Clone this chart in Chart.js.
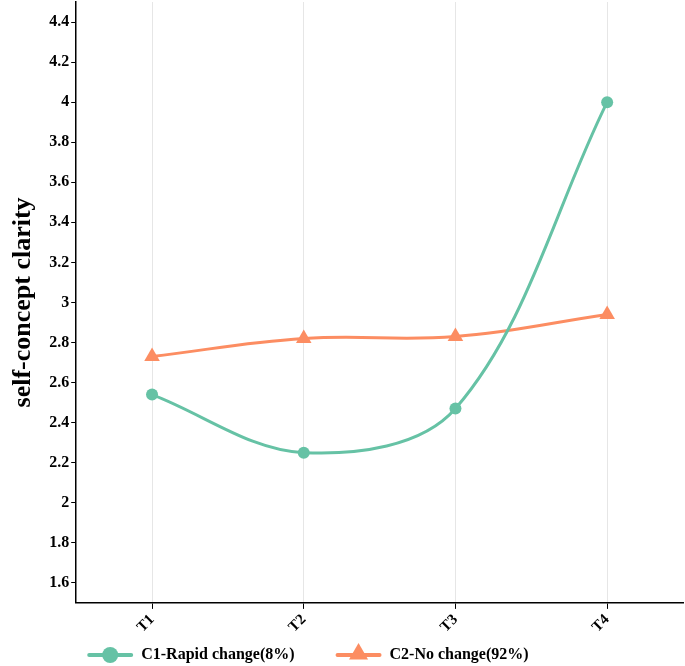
<!DOCTYPE html>
<html>
<head>
<meta charset="utf-8">
<script src="https://cdn.jsdelivr.net/npm/chart.js@4"></script>
<style>
  html, body { margin: 0; padding: 0; background: #fff; }
  #wrap { width: 685px; height: 666px; }
</style>
</head>
<body>
<div id="wrap"><canvas id="clarityChart"></canvas></div>
<script>
// ── data ──────────────────────────────────────────
const categories = ['T1', 'T2', 'T3', 'T4'];
const rapidChange = [2.54, 2.25, 2.47, 4.00];
const noChange = [2.73, 2.82, 2.83, 2.94];
const yTicks = [1.6, 1.8, 2, 2.2, 2.4, 2.6, 2.8, 3, 3.2, 3.4, 3.6, 3.8, 4, 4.2, 4.4];
const seriesNames = ['C1-Rapid change(8%)', 'C2-No change(92%)'];

const GREEN = '#66c2a5';
const ORANGE = '#fc8d62';
const SERIF = "'Liberation Serif', 'Times New Roman', serif";

// legend drawn under the axis: line + marker, then bold label
const bottomLegend = {
    id: 'bottomLegend',
    afterDraw(chart) {
        const ctx = chart.ctx;
        const y = chart.height - 11;
        let x = chart.chartArea.left + 13;
        ctx.save();
        ctx.font = `bold 16px ${SERIF}`;
        ctx.textBaseline = 'middle';
        ctx.textAlign = 'left';
        chart.data.datasets.forEach(ds => {
            ctx.strokeStyle = ds.borderColor;
            ctx.lineWidth = 4;
            ctx.lineCap = 'round';
            ctx.beginPath();
            ctx.moveTo(x, y);
            ctx.lineTo(x + 42, y);
            ctx.stroke();
            ctx.fillStyle = ds.borderColor;
            Chart.helpers.drawPoint(ctx, {
                pointStyle: ds.pointStyle, rotation: 0,
                radius: ds.pointStyle === 'triangle' ? 11 : 8, borderWidth: 0
            }, x + 21, ds.pointStyle === 'triangle' ? y - 1 : y);
            ctx.fillStyle = '#000';
            ctx.fillText(ds.label, x + 52, y);
            x += 52 + ctx.measureText(ds.label).width + 43;
        });
        ctx.restore();
    }
};

new Chart(document.getElementById('clarityChart'), {
    type: 'line',
    data: {
        labels: categories,
        datasets: [
            {
                label: seriesNames[0], data: rapidChange,
                borderColor: GREEN, backgroundColor: GREEN,
                borderWidth: 3, tension: 0.35,
                pointStyle: 'circle', pointRadius: 6, pointBorderWidth: 0
            },
            {
                label: seriesNames[1], data: noChange,
                borderColor: ORANGE, backgroundColor: ORANGE,
                borderWidth: 3, tension: 0.4,
                pointStyle: 'triangle', pointRadius: 9, pointBorderWidth: 0
            }
        ]
    },
    options: {
        responsive: true,
        maintainAspectRatio: false,
        animation: false,
        layout: { autoPadding: false, padding: { left: 4, right: 2, top: 2, bottom: 28 } },
        plugins: {
            legend: { display: false },
            tooltip: { enabled: false }
        },
        scales: {
            x: {
                offset: true,
                afterFit: scale => { scale.paddingRight = 0; scale.paddingLeft = 0; },
                grid: { display: true, offset: false, color: '#e6e6e6', lineWidth: 1, tickColor: '#000', tickLength: 6 },
                border: { display: true, color: '#000', width: 1.5 },
                ticks: {
                    color: '#000', padding: 2,
                    maxRotation: 45, minRotation: 45,
                    font: { family: SERIF, size: 15, weight: 'bold' }
                }
            },
            y: {
                min: 1.5,
                max: 4.5,
                afterBuildTicks: scale => { scale.ticks = yTicks.map(v => ({ value: v })); },
                afterFit: scale => { scale.paddingTop = 0; scale.paddingBottom = 0; },
                grid: { drawOnChartArea: false, tickColor: '#000', tickLength: 5 },
                border: { display: true, color: '#000', width: 1.5 },
                ticks: {
                    color: '#000', padding: 2,
                    font: { family: SERIF, size: 16, weight: 'bold' },
                    callback: v => String(+(+v).toFixed(1))
                },
                title: {
                    display: true,
                    text: 'self-concept clarity',
                    color: '#000',
                    padding: { top: 4, bottom: 8 },
                    font: { family: SERIF, size: 26, weight: 'bold' }
                }
            }
        }
    },
    plugins: [bottomLegend]
});
</script>
</body>
</html>
